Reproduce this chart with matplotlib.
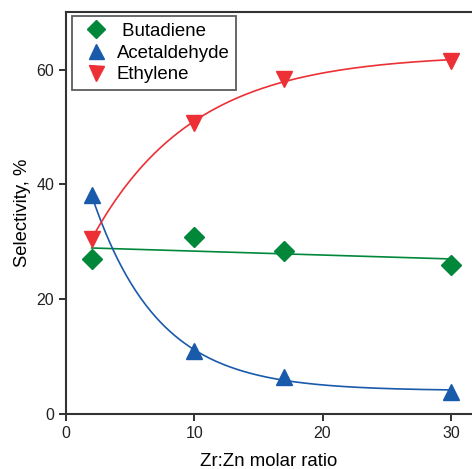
import numpy as np
import matplotlib
matplotlib.use('Agg')
import matplotlib.pyplot as plt

plt.rcParams['font.family'] = ['Liberation Sans', 'DejaVu Sans']

# Data
ratio = [2, 10, 17, 30]
butadiene = [26.9, 30.8, 28.4, 26.0]
acetaldehyde = [38.1, 10.9, 6.4, 3.8]
ethylene = [30.5, 50.7, 58.4, 61.5]

c_green = '#00873a'
c_blue = '#1a5aab'
c_red = '#ec3035'


def exp_fit(x, y):
    # y = a + b*exp(-k*x), grid over k with linear least squares for a, b
    x = np.asarray(x, float)
    y = np.asarray(y, float)
    best = None
    for k in np.linspace(0.01, 1.0, 2000):
        A = np.column_stack([np.ones_like(x), np.exp(-k * x)])
        coef, *_ = np.linalg.lstsq(A, y, rcond=None)
        err = np.sum((A @ coef - y) ** 2)
        if best is None or err < best[0]:
            best = (err, k, coef)
    _, k, (a, b) = best
    return lambda t: a + b * np.exp(-k * t)


xs = np.linspace(min(ratio), max(ratio), 300)

fig = plt.figure(figsize=(4.72, 4.69), dpi=100)
ax = fig.add_axes([0.1398, 0.1179, 0.8602, 0.8572])

# fitted curves
p = np.polyfit(ratio, butadiene, 1)
ax.plot(xs, np.polyval(p, xs), color=c_green, lw=1.2)
ax.plot(xs, exp_fit(ratio, acetaldehyde)(xs), color=c_blue, lw=1.2)
ax.plot(xs, exp_fit(ratio, ethylene)(xs), color=c_red, lw=1.2)

# markers
ax.plot(ratio, butadiene, 'D', color=c_green, ms=10, ls='none', label=' Butadiene')
ax.plot(ratio, acetaldehyde, '^', color=c_blue, ms=12, ls='none', label='Acetaldehyde')
ax.plot(ratio, ethylene, 'v', color=c_red, ms=12, ls='none', label='Ethylene')

ax.set_xlim(0, 31.65)
ax.set_ylim(0, 70.1)
ax.set_xticks([0, 10, 20, 30])
ax.set_yticks([0, 20, 40, 60])
ax.tick_params(direction='out', length=5, width=1.3, labelsize=11.5, colors='#222222')
for s in ['left', 'bottom', 'top']:
    ax.spines[s].set_linewidth(1.5)
    ax.spines[s].set_color('#333333')
ax.spines['right'].set_visible(False)

ax.set_xlabel('Zr:Zn molar ratio', fontsize=13.4, labelpad=9)
ax.set_ylabel('Selectivity, %', fontsize=13.3, labelpad=4)

leg = ax.legend(loc='upper left', bbox_to_anchor=(0.0148, 0.989), fontsize=13.4,
                frameon=True, fancybox=False, edgecolor='#333333',
                borderpad=0.35, labelspacing=0.26, handletextpad=0.17,
                handlelength=1.88, borderaxespad=0, markerscale=0.9)
leg.get_frame().set_linewidth(1.3)

plt.savefig('out.png', dpi=100)
